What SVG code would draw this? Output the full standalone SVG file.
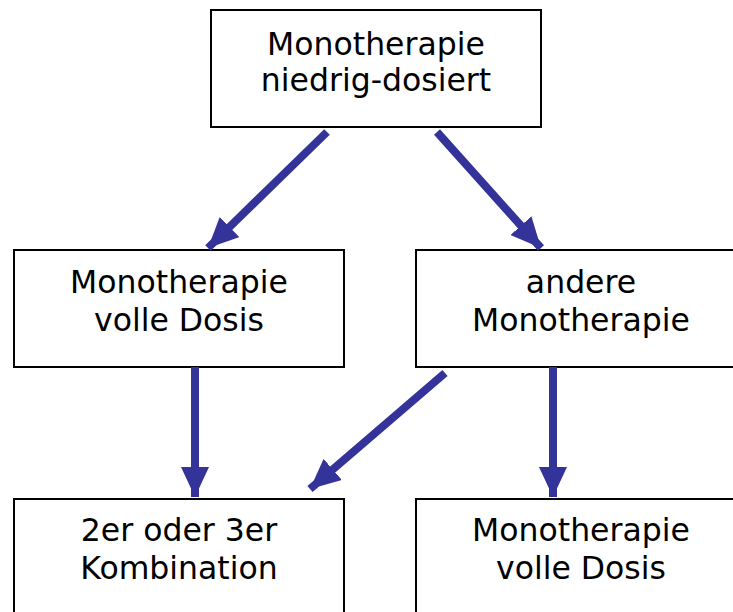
<svg xmlns="http://www.w3.org/2000/svg" width="733" height="612" viewBox="0 0 733 612">
<style>
.box{fill:#fff;stroke:#000;stroke-width:2}
.t{font-family:"DejaVu Sans",Verdana,sans-serif;font-size:31.5px;fill:#000;text-anchor:middle}
.c{stroke:#333399;stroke-width:8;fill:none}
</style>
<defs>
<marker id="ah" markerUnits="userSpaceOnUse" markerWidth="32" markerHeight="28" refX="30" refY="14" orient="auto">
<path d="M0,0 L30,14 L0,28 Z" fill="#333399"/>
</marker>
</defs>
<rect width="733" height="612" fill="#fff"/>
<g id="n1"><rect class="box" x="211" y="10" width="330" height="117"/><text class="t" x="376" y="55">Monotherapie</text><text class="t" x="376" y="91">niedrig-dosiert</text></g>
<g id="n2"><rect class="box" x="14" y="250" width="330" height="117"/><text class="t" x="179" y="293">Monotherapie</text><text class="t" x="179" y="331">volle Dosis</text></g>
<g id="n3"><rect class="box" x="416" y="250" width="330" height="117"/><text class="t" x="581" y="293">andere</text><text class="t" x="581" y="331">Monotherapie</text></g>
<g id="n4"><rect class="box" x="14" y="499" width="330" height="130"/><text class="t" x="179" y="541">2er oder 3er</text><text class="t" x="179" y="579">Kombination</text></g>
<g id="n5"><rect class="box" x="416" y="499" width="330" height="130"/><text class="t" x="581" y="541">Monotherapie</text><text class="t" x="581" y="579">volle Dosis</text></g>
<g id="connectors">
<line class="c" x1="327" y1="132" x2="208" y2="248" marker-end="url(#ah)"/>
<line class="c" x1="437" y1="132" x2="541" y2="248" marker-end="url(#ah)"/>
<line class="c" x1="195" y1="367" x2="195" y2="497" marker-end="url(#ah)"/>
<line class="c" x1="445" y1="373" x2="310" y2="489" marker-end="url(#ah)"/>
<line class="c" x1="553" y1="367" x2="553" y2="497" marker-end="url(#ah)"/>
</g>
</svg>
